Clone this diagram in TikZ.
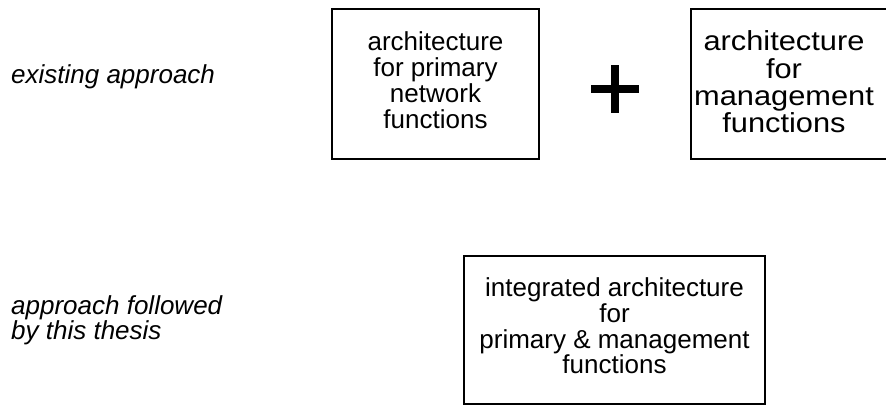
\documentclass[tikz,border=0pt]{standalone}
\usepackage{fontspec}
\setmainfont{Liberation Sans}
% slightly widened face for the management box
\newfontfamily\widesans[FakeStretch=1.12]{Liberation Sans}
\begin{document}
\begin{tikzpicture}[x=1pt,y=-1pt,
  boxframe/.style={draw, line width=2pt, inner sep=0pt, rectangle},
  boxtext/.style={align=center, inner sep=0pt, font=\fontsize{26}{25.8}\selectfont},
  widetext/.style={align=center, inner sep=0pt, font=\widesans\fontsize{27.5}{27.4}\selectfont},
  sidetext/.style={align=left, inner sep=0pt, font=\fontsize{26}{24}\selectfont\itshape}]
\useasboundingbox (0,0) rectangle (886,407);
\clip (0,0) rectangle (886,407);

% row labels
\node[sidetext, anchor=base west] (lexist) at (11,83) {existing approach};
\node[sidetext, anchor=north west] (lthesis) at (11,295) {approach followed\\by this thesis};

% existing approach: two separate architectures
\node[boxframe, minimum width=207pt, minimum height=150pt] (b1) at (435.5,84) {};
\node[boxtext] (t1) at (435.5,80.2) {architecture\\for primary\\network\\functions};

\node[boxframe, minimum width=214pt, minimum height=149.5pt] (b2) at (798,83.75) {};
\node[widetext] (t2) at (784,82) {architecture\\for\\management\\functions};

% plus sign between the two boxes
\fill (591,85) rectangle (639,93);
\fill (611,65) rectangle (619,113);

% approach of this thesis: one integrated architecture
\node[boxframe, minimum width=301pt, minimum height=148pt] (b3) at (614.5,330) {};
\node[boxtext] (t3) at (614.5,326) {integrated architecture\\for\\primary \& management\\functions};
\end{tikzpicture}
\end{document}
